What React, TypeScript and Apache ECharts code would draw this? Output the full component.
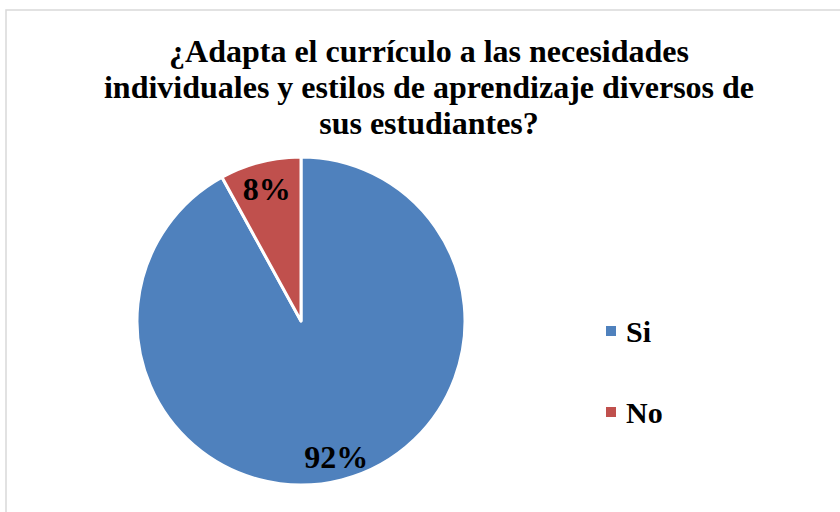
import React, { useEffect, useRef } from "react";
import * as echarts from "echarts";

const categories = ["Si", "No"];
const values = [92, 8];
const colors = ["#4F81BD", "#C0504D"];
const titleText =
  "¿Adapta el currículo a las necesidades\nindividuales y estilos de aprendizaje diversos de\nsus estudiantes?";

export default function App() {
  const ref = useRef<HTMLDivElement>(null);
  useEffect(() => {
    if (!ref.current) return;
    const chart = echarts.init(ref.current, null, { renderer: "svg" });
    const font = "Liberation Serif";
    chart.setOption({
      animation: false,
      backgroundColor: "#ffffff",
      graphic: [
        {
          type: "rect",
          shape: { x: 6, y: 10, width: 900, height: 600 },
          style: { fill: "none", stroke: "#D9D9D9", lineWidth: 1.5 },
          silent: true,
          z: -1,
        },
      ],
      title: {
        text: titleText,
        left: 429,
        textAlign: "center",
        top: 33,
        padding: 0,
        textStyle: {
          fontFamily: font,
          fontWeight: "bold",
          fontSize: 32,
          lineHeight: 36,
          color: "#000",
        },
      },
      legend: {
        orient: "vertical",
        left: 599,
        top: 311,
        icon: "rect",
        itemWidth: 12,
        itemHeight: 12,
        itemGap: 51,
        data: categories,
        textStyle: {
          fontFamily: font,
          fontWeight: "bold",
          fontSize: 30,
          lineHeight: 30,
          color: "#000",
          padding: [0, 0, 0, 4],
        },
      },
      series: [
        {
          type: "pie",
          center: [301, 321],
          radius: 164,
          startAngle: 90,
          clockwise: true,
          data: categories.map((c, i) => ({
            name: c,
            value: values[i],
            itemStyle: { color: colors[i] },
            label: { offset: i === 0 ? [14, 54] : [-13, -50] },
          })),
          itemStyle: { borderColor: "#ffffff", borderWidth: 3 },
          label: {
            show: true,
            position: "inside",
            formatter: "{d}%",
            fontFamily: font,
            fontWeight: "bold",
            fontSize: 32,
            color: "#000",
          },
          labelLine: { show: false },
          emphasis: { disabled: true },
        },
      ],
    });
    return () => chart.dispose();
  }, []);
  return (
    <div
      ref={ref}
      style={{ position: "absolute", left: 0, top: 0, width: 840, height: 512 }}
    />
  );
}
